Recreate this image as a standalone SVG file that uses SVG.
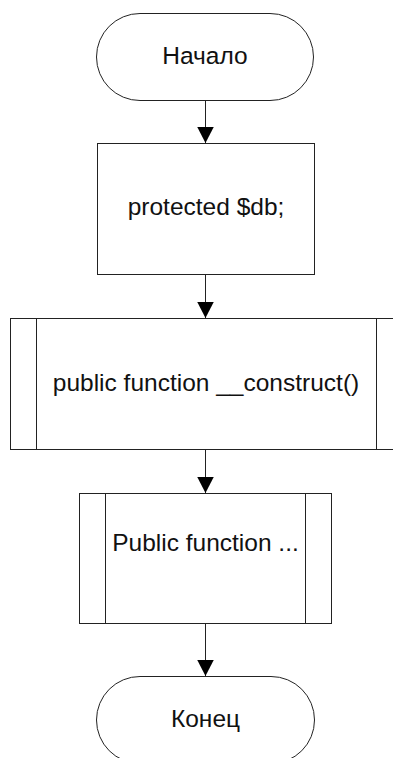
<svg xmlns="http://www.w3.org/2000/svg" width="393" height="758" viewBox="0 0 393 758">
  <style>
    .shape { fill: #ffffff; stroke: #222222; stroke-width: 1; }
    .edge { fill: none; stroke: #222222; stroke-width: 1; }
    .label { font-family: "Liberation Sans", Arial, sans-serif; font-size: 24.5px; fill: #111111; text-anchor: middle; }
  </style>
  <defs>
    <marker id="arrow" markerUnits="userSpaceOnUse" markerWidth="17" markerHeight="17" refX="16.5" refY="8.5" orient="auto">
      <path d="M0,0 L16.5,8.5 L0,17 Z" fill="#000000"/>
    </marker>
  </defs>
  <rect width="393" height="758" fill="#ffffff"/>

  <!-- flow connectors -->
  <g id="connectors">
    <line class="edge" x1="205.5" y1="100" x2="205.5" y2="143" marker-end="url(#arrow)"/>
    <line class="edge" x1="205.5" y1="275" x2="205.5" y2="318" marker-end="url(#arrow)"/>
    <line class="edge" x1="205.5" y1="449" x2="205.5" y2="493" marker-end="url(#arrow)"/>
    <line class="edge" x1="205.5" y1="623" x2="205.5" y2="676" marker-end="url(#arrow)"/>
  </g>

  <!-- start terminal -->
  <g id="start">
    <rect class="shape" x="96.5" y="13.5" width="217" height="87" rx="43.5" ry="43.5"/>
    <text class="label" x="205" y="64">Начало</text>
  </g>

  <!-- property declaration -->
  <g id="declare-db">
    <rect class="shape" x="97.5" y="143.5" width="217" height="131"/>
    <text class="label" x="206" y="215">protected $db;</text>
  </g>

  <!-- constructor subroutine -->
  <g id="construct">
    <rect class="shape" x="10.5" y="318.5" width="391" height="131"/>
    <line class="edge" x1="36.5" y1="318.5" x2="36.5" y2="449.5"/>
    <line class="edge" x1="376.5" y1="318.5" x2="376.5" y2="449.5"/>
    <text class="label" x="206" y="391">public function __construct()</text>
  </g>

  <!-- further methods subroutine -->
  <g id="methods">
    <rect class="shape" x="79.5" y="493.5" width="252" height="130"/>
    <line class="edge" x1="105.5" y1="493.5" x2="105.5" y2="623.5"/>
    <line class="edge" x1="305.5" y1="493.5" x2="305.5" y2="623.5"/>
    <text class="label" x="205.5" y="551">Public function ...</text>
  </g>

  <!-- end terminal -->
  <g id="end">
    <rect class="shape" x="96.5" y="676.5" width="218" height="87" rx="43.5" ry="43.5"/>
    <text class="label" x="205.5" y="727">Конец</text>
  </g>
</svg>
